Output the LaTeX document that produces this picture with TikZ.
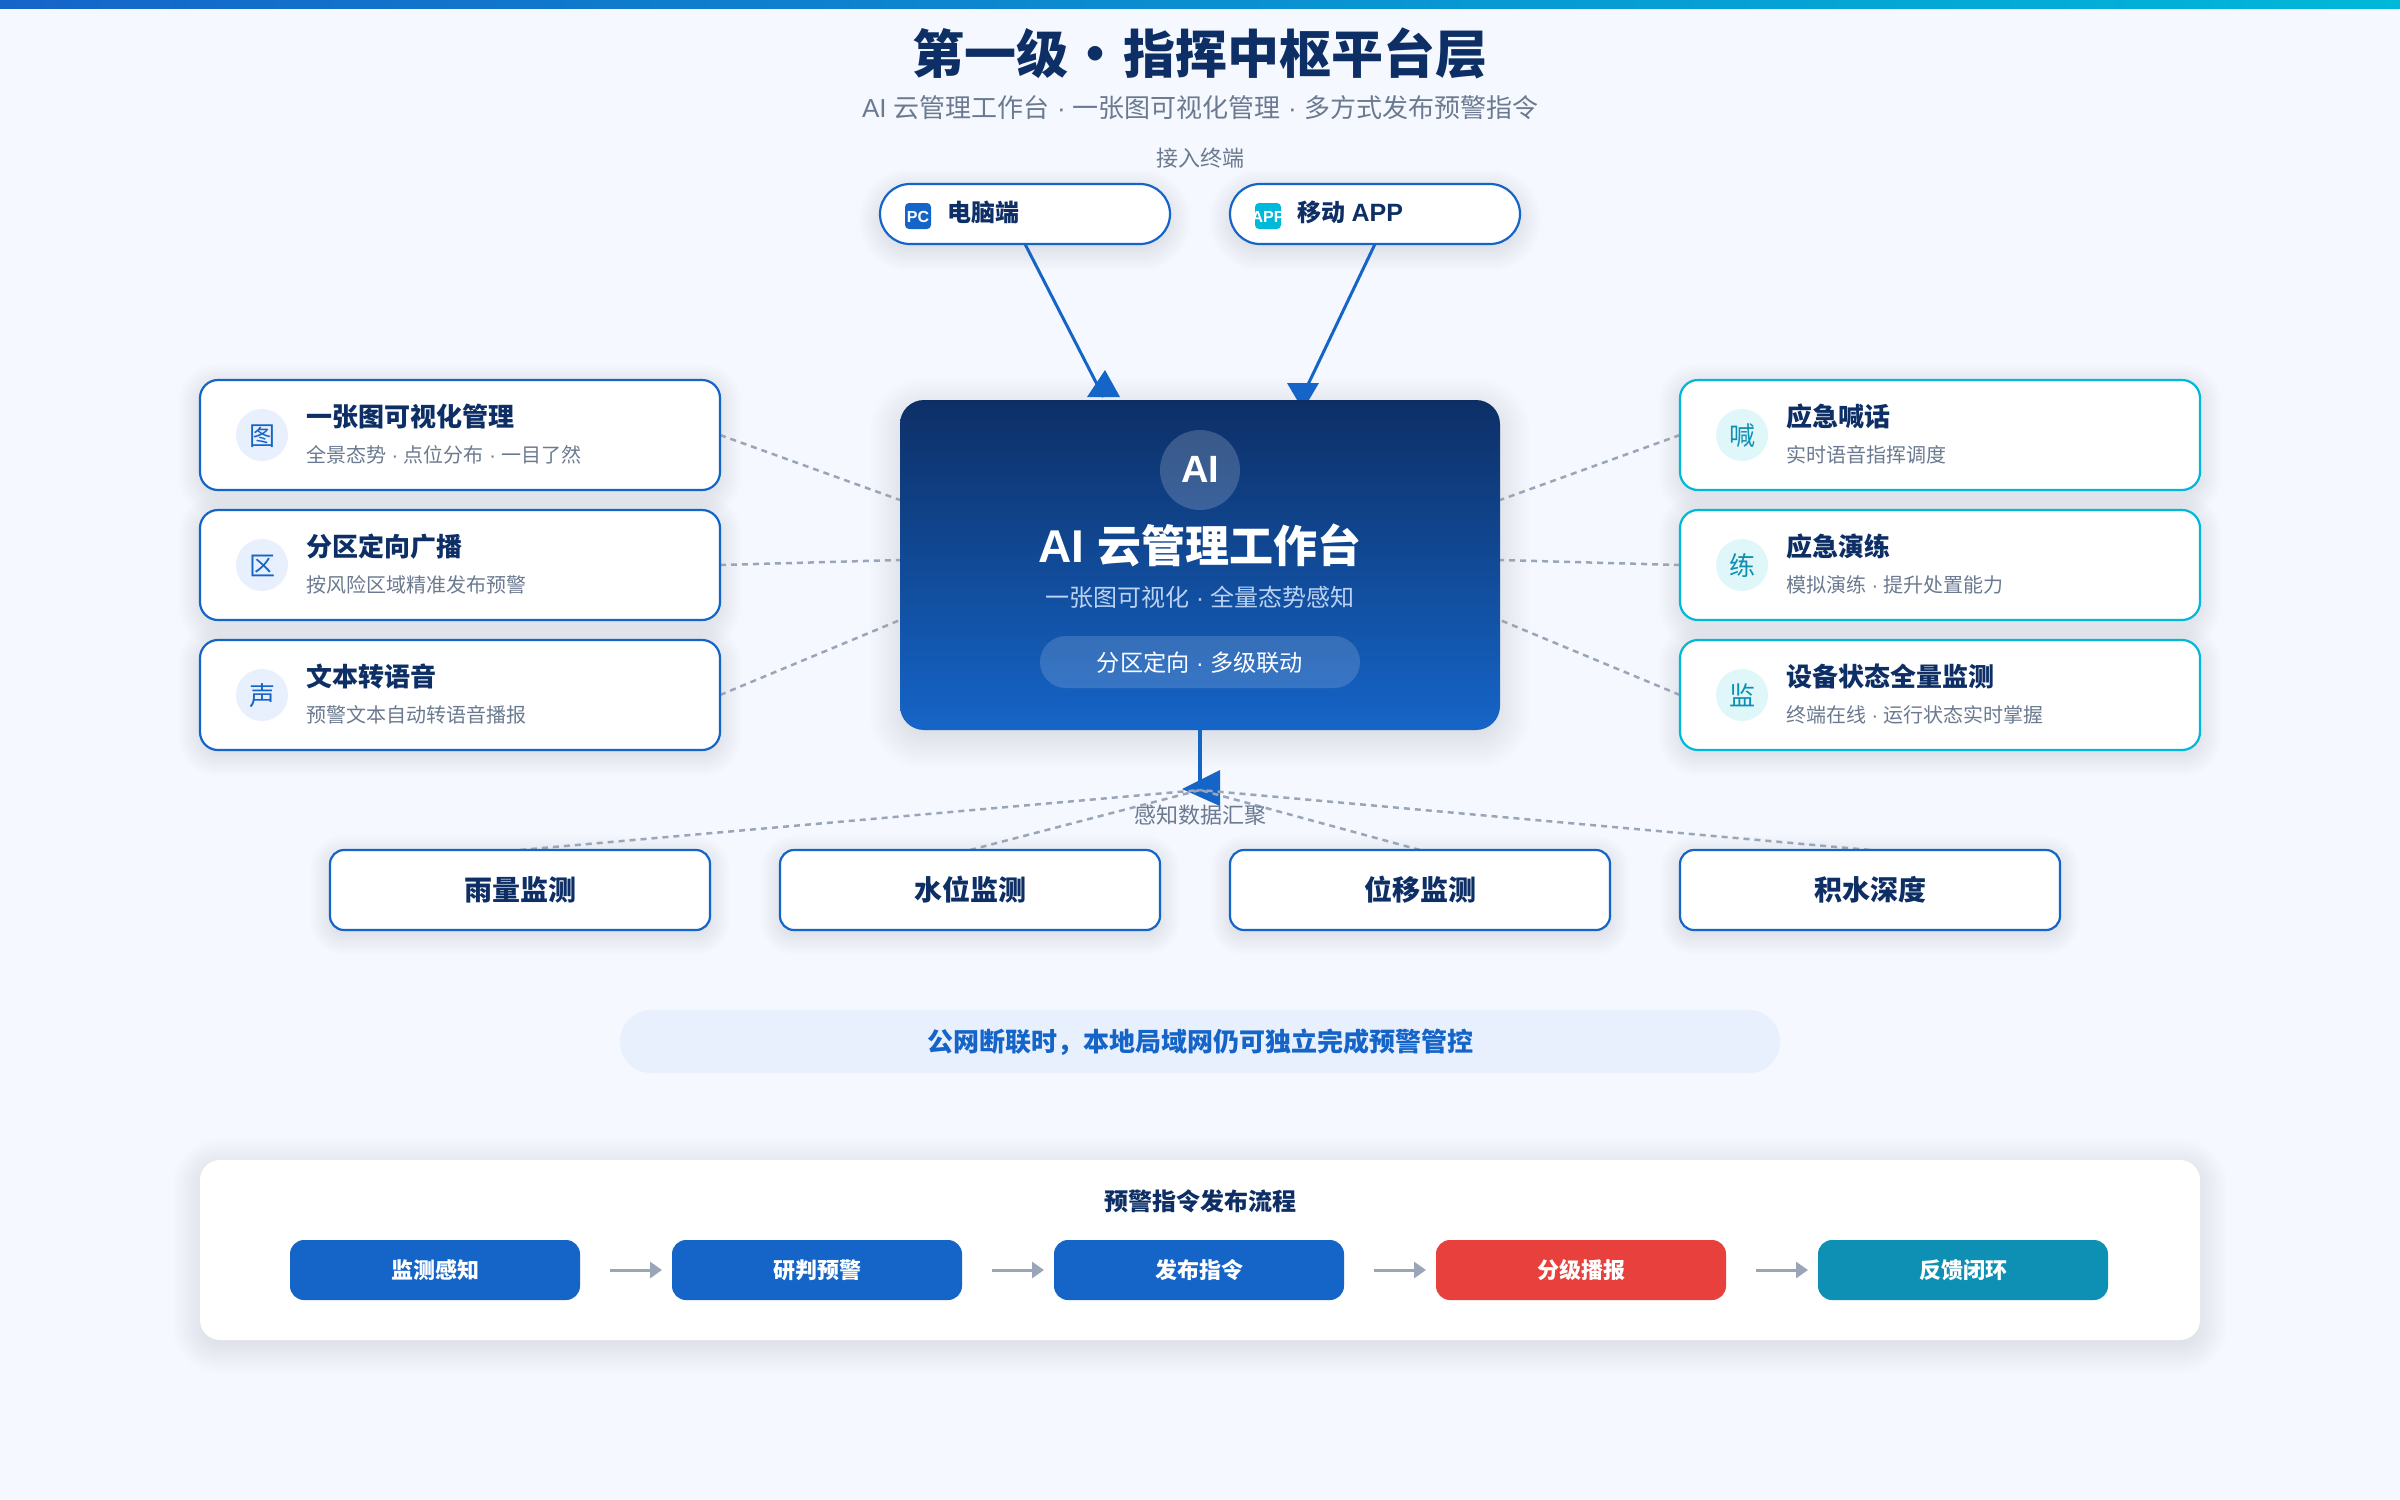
\documentclass[tikz,border=0pt]{standalone}
\usepackage{fontspec}
\setmainfont{Noto Sans CJK SC}
\newfontfamily\latf{Liberation Sans}
\usetikzlibrary{arrows.meta}
\definecolor{bgc}{HTML}{F5F8FE}
\definecolor{navy}{HTML}{0D2F66}
\definecolor{blue}{HTML}{1565C8}
\definecolor{cyanc}{HTML}{00B8D9}
\definecolor{tealc}{HTML}{0E90B5}
\definecolor{redc}{HTML}{E8403C}
\definecolor{greyt}{HTML}{6B7A90}
\definecolor{dashc}{HTML}{9AA6B8}
\definecolor{iconb}{HTML}{E8F0FD}
\definecolor{iconc}{HTML}{E0F7FA}
\definecolor{subc}{HTML}{BBD3F3}
\pgfdeclarelayer{bglayer}\pgfdeclarelayer{shadowlayer}\pgfdeclarelayer{edgelayer}
\pgfsetlayers{bglayer,shadowlayer,edgelayer,main}
\newcommand\pxf[1]{\fontsize{#1}{#1}\selectfont}
\newcommand\dt{{\latf\ ·\ }}
\newcommand\softshadow[7]{%
  \begin{pgfonlayer}{shadowlayer}
  \foreach \i in {1,...,12}{
    \pgfmathsetmacro\e{#7*(\i/12)-#7*0.25}
    \pgfmathsetmacro\rr{max(#5+\e,2)*0.5}
    \fill[navy,opacity=.008,rounded corners=\rr pt] (#1-\e,#2+#6-\e) rectangle (#3+\e,#4+#6+\e);
  }
  \end{pgfonlayer}}
\tikzset{
  x=0.5pt,y=-0.5pt,
  txt/.style={inner sep=0pt,outer sep=0pt,anchor=base},
  txtl/.style={inner sep=0pt,outer sep=0pt,anchor=base west},
  boxbase/.style={rectangle,inner sep=0pt,outer sep=0pt,line width=1.1pt,fill=white},
  cardbox/.style={boxbase,minimum width=260pt,minimum height=55pt,rounded corners=9pt},
  pillbox/.style={boxbase,draw=blue,minimum width=145pt,minimum height=30pt,rounded corners=15pt},
  sensorbox/.style={boxbase,draw=blue,minimum width=190pt,minimum height=40pt,rounded corners=7pt},
  stepbox/.style={rectangle,inner sep=0pt,outer sep=0pt,minimum width=145pt,minimum height=30pt,rounded corners=7pt},
  dashline/.style={draw=dashc,line width=1.25pt,dash pattern=on 3pt off 2.5pt},
  hubline/.style={draw=blue,line width=1.5pt},
  hubstem/.style={draw=blue,line width=2pt},
  flowarrow/.style={draw=dashc,line width=1.5pt,-{Triangle[length=6pt,width=8pt]},shorten <=15pt,shorten >=5pt},
}
\begin{document}
\begin{tikzpicture}
\useasboundingbox (0,0) rectangle (2400,1500);
\begin{pgfonlayer}{bglayer}
\fill[bgc] (0,0) rectangle (2400,1500);
\shade[left color=blue,right color=cyanc,shading angle=90] (0,0) rectangle (2400,8);
\end{pgfonlayer}

% Heading
\node[txt,text=navy,font=\pxf{26}\bfseries] (title) at (1200,73) {第一级\kern.8pt·\kern.8pt指挥中枢平台层};
\node[txt,text=greyt,font=\pxf{13}] (subtitle) at (1200,117) {{\latf AI\ }云管理工作台\dt 一张图可视化管理\dt 多方式发布预警指令};
\node[txt,text=greyt,font=\pxf{11}] (termlabel) at (1200,166) {接入终端};

% Terminals
\softshadow{880}{184}{1170}{244}{30}{6}{28}
\softshadow{1230}{184}{1520}{244}{30}{6}{28}
\node[pillbox] (pc) at (1025,214) {};
\node[pillbox] (app) at (1375,214) {};
\node[rectangle,fill=blue,rounded corners=2pt,minimum size=13pt,inner sep=0pt] (pcicon) at (918,216) {};
\node[rectangle,fill=cyanc,rounded corners=2pt,minimum size=13pt,inner sep=0pt] (appicon) at (1268,216) {};
\node[txt,text=white,font=\latf\pxf{8}\bfseries] (pcicont) at (918,222) {PC};
\node[txt,text=white,font=\latf\pxf{8}\bfseries] (appicont) at (1268,222) {APP};
\node[txtl,text=navy,font=\pxf{12}\bfseries] (pct) at (947,221) {电脑端};
\node[txtl,text=navy,font=\pxf{12}\bfseries] (appt) at (1297,221) {移动{\latf\ \pxf{12.5}APP}};

% Hub
\softshadow{900}{400}{1500}{730}{24}{8}{40}
\node[rectangle,inner sep=0pt,outer sep=0pt,minimum width=300pt,minimum height=165pt,rounded corners=12pt,top color=navy,bottom color=blue] (hub) at (1200,565) {};
\node[circle,fill=white,fill opacity=.18,minimum size=40pt,inner sep=0pt] (aicircle) at (1200,470) {};
\node[txt,text=white,font=\latf\pxf{19}\bfseries] (aitext) at (1200,482) {AI};
\node[txt,text=white,font=\pxf{22}\bfseries] (hubtitle) at (1200,562) {{\latf\pxf{23}AI\ }云管理工作台};
\node[txt,text=subc,font=\pxf{12}] (hubsub) at (1200,606) {一张图可视化\dt 全量态势感知};
\node[rectangle,fill=white,fill opacity=.15,minimum width=160pt,minimum height=26pt,rounded corners=13pt,inner sep=0pt] (hubbadge) at (1200,662) {};
\node[txt,text=white,font=\pxf{11.6}] (hubbadget) at (1200,671) {分区定向\dt 多级联动};

% Side cards
\foreach \n/\cy/\ch/\ti/\su in {
 L1/435/图/一张图可视化管理/全景态势\dt 点位分布\dt 一目了然,
 L2/565/区/分区定向广播/按风险区域精准发布预警,
 L3/695/声/文本转语音/预警文本自动转语音播报}{
  \softshadow{200}{\cy-55}{720}{\cy+55}{18}{5}{28}
  \node[cardbox,draw=blue] (card\n) at (460,\cy) {};
  \node[circle,fill=iconb,minimum size=26pt,inner sep=0pt] (icon\n) at (262,\cy) {};
  \node[txt,text=blue,font=\pxf{13}] (ich\n) at (262,\cy+10) {\ch};
  \node[txtl,text=navy,font=\pxf{13}\bfseries] (tit\n) at (306,\cy-9) {\ti};
  \node[txtl,text=greyt,font=\pxf{10}] (sub\n) at (306,\cy+27) {\su};
}
\foreach \n/\cy/\ch/\ti/\su in {
 R1/435/喊/应急喊话/实时语音指挥调度,
 R2/565/练/应急演练/模拟演练\dt 提升处置能力,
 R3/695/监/设备状态全量监测/终端在线\dt 运行状态实时掌握}{
  \softshadow{1680}{\cy-55}{2200}{\cy+55}{18}{5}{28}
  \node[cardbox,draw=cyanc] (card\n) at (1940,\cy) {};
  \node[circle,fill=iconc,minimum size=26pt,inner sep=0pt] (icon\n) at (1742,\cy) {};
  \node[txt,text=tealc,font=\pxf{13}] (ich\n) at (1742,\cy+10) {\ch};
  \node[txtl,text=navy,font=\pxf{13}\bfseries] (tit\n) at (1786,\cy-9) {\ti};
  \node[txtl,text=greyt,font=\pxf{10}] (sub\n) at (1786,\cy+27) {\su};
}

% Sensors
\foreach \n/\cx/\ti in {S1/520/雨量监测,S2/970/水位监测,S3/1420/位移监测,S4/1870/积水深度}{
  \softshadow{\cx-190}{850}{\cx+190}{930}{14}{5}{26}
  \node[sensorbox] (\n) at (\cx,890) {};
  \node[txt,text=navy,font=\pxf{14}\bfseries] (\n t) at (\cx,900) {\ti};
}
\node[txt,text=greyt,font=\pxf{11}] (senselabel) at (1200,823) {感知数据汇聚};

% Offline banner
\node[rectangle,fill=iconb,minimum width=580pt,minimum height=31.5pt,rounded corners=15.7pt,inner sep=0pt] (banner) at (1200,1041.5) {};
\node[txt,text=blue,font=\pxf{13}\bfseries] (bannert) at (1200,1051) {公网断联时，本地局域网仍可独立完成预警管控};

% Flow panel
\softshadow{200}{1160}{2200}{1340}{20}{6}{36}
\node[rectangle,fill=white,minimum width=1000pt,minimum height=90pt,rounded corners=10pt,inner sep=0pt] (panel) at (1200,1250) {};
\node[txt,text=navy,font=\pxf{12}\bfseries] (panelt) at (1200,1210) {预警指令发布流程};
\foreach \n/\cx/\c/\ti in {F1/435/blue/监测感知,F2/817/blue/研判预警,F3/1199/blue/发布指令,F4/1581/redc/分级播报,F5/1963/tealc/反馈闭环}{
  \node[stepbox,fill=\c] (\n) at (\cx,1270) {};
  \node[txt,text=white,font=\pxf{11}\bfseries] (\n t) at (\cx,1278) {\ti};
}

% Connector end points
\coordinate (hubA) at (1103.5,397);
\coordinate (hubB) at (1303,395);
\coordinate (hubS) at (1200,784);
\coordinate (merge) at (1200,790);
\coordinate (hl1) at (900,500);
\coordinate (hl2) at (900,560);
\coordinate (hl3) at (900,620);
\coordinate (hr1) at (1500,500);
\coordinate (hr2) at (1500,560);
\coordinate (hr3) at (1500,620);

\begin{pgfonlayer}{edgelayer}
\draw[hubline] (pc.south) -- (hubA);
\draw[hubline] (app.south) -- (hubB);
\fill[blue] (1105,370) -- (1120,397) -- (1087,397) -- cycle;
\fill[blue] (1287,383) -- (1319,383) -- (1303,410) -- cycle;
\draw[hubstem] (hub.south) -- (hubS);
\fill[blue] (1182,789) -- (1220,770) -- (1220,806) -- cycle;
\foreach \a/\b in {cardL1.east/hl1,cardL2.east/hl2,cardL3.east/hl3,cardR1.west/hr1,cardR2.west/hr2,cardR3.west/hr3,S1.north/merge,S2.north/merge,S3.north/merge,S4.north/merge}
  \draw[dashline] (\a) -- (\b);
\end{pgfonlayer}
\foreach \a/\b in {F1/F2,F2/F3,F3/F4,F4/F5}
  \draw[flowarrow] (\a.east) -- (\b.west);
\end{tikzpicture}
\end{document}
